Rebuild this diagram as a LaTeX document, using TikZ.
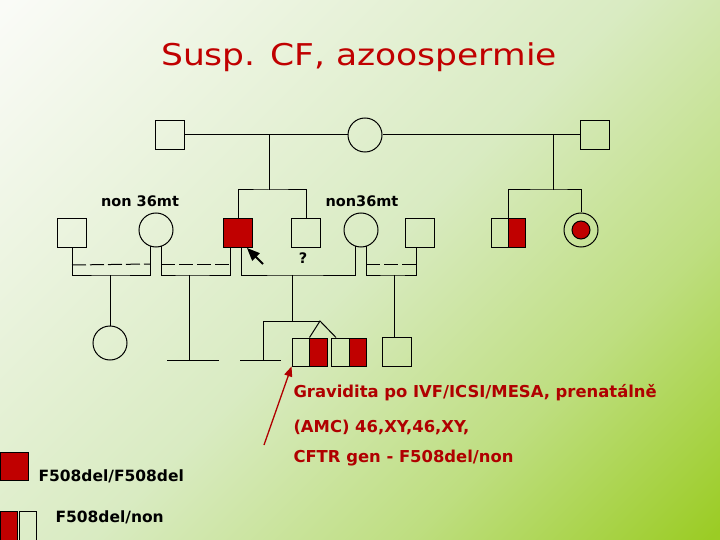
\documentclass[tikz,border=0pt]{standalone}
\usepackage{fontspec}
\setsansfont{DejaVu Sans}
\newfontfamily\titlefont[FakeStretch=1.15]{DejaVu Sans}
\usetikzlibrary{arrows,calc}
\definecolor{cfred}{RGB}{192,0,0}
\definecolor{txtred}{RGB}{176,0,0}
\definecolor{bgA}{RGB}{250,251,247}
\definecolor{bgB}{RGB}{217,235,194}
\definecolor{bgC}{RGB}{190,222,128}
\definecolor{bgD}{RGB}{155,204,36}
\pgfdeclarehorizontalshading{bgshade}{100bp}{color(0bp)=(bgA); color(15bp)=(bgA); color(50bp)=(bgB); color(68bp)=(bgC); color(85bp)=(bgD); color(100bp)=(bgD)}
\tikzset{every picture/.style={/utils/exec={\sffamily}}}
\tikzset{male/.style={draw,rectangle,minimum size=29pt,inner sep=0pt}}
\tikzset{female/.style={draw,circle,minimum size=34pt,inner sep=0pt}}
\tikzset{affected/.style={male,fill=cfred}}
\tikzset{carrier/.style={male,minimum width=35pt,minimum height=28pt,path picture={\fill[cfred] (path picture bounding box.north) rectangle (path picture bounding box.south east); \draw (path picture bounding box.north) -- (path picture bounding box.south);}}}
\tikzset{carrierf/.style={female,path picture={\fill[cfred,draw=black] (path picture bounding box.center) circle (9pt);}}}
\tikzset{pname/.style={font=\bfseries\fontsize{14.5}{16}\selectfont,inner sep=0pt}}
\tikzset{notetext/.style={font=\bfseries\fontsize{16.4}{18}\selectfont,text=txtred,anchor=west,inner sep=0pt}}
\tikzset{legtext/.style={font=\bfseries\fontsize{15.5}{18}\selectfont,anchor=west,inner sep=0pt}}
\tikzset{rail/.style={dash pattern=on 14pt off 4pt}}
\tikzset{blackarr/.style={-triangle 45,line width=2pt}}
\tikzset{redarr/.style={-triangle 45,txtred,line width=1.3pt}}

\begin{document}
\begin{tikzpicture}[x=1pt,y=-1pt,line width=1pt]
    \shade [shading=bgshade,shading angle=-45] (0,0) rectangle (720,540);
    \useasboundingbox (0,0) rectangle (720,540);
    \node [font=\titlefont\fontsize{30}{34}\selectfont,text=cfred] (title) at (359,57) {Susp. CF, azoospermie};
    % grandparents
    \node [male] (gf1) at (170,135) {};
    \node [female] (gm) at (365,135) {};
    \node [male] (gf2) at (595,135) {};
    \coordinate (m1) at (269,135);
    \coordinate (s1) at (269,190);
    \coordinate (m2) at (553,135);
    \coordinate (s2) at (553,190);
    \draw (gf1) -- (gm) -- (gf2);
    % parents
    \node [male] (a) at (72,233) {};
    \node [female] (b) at (156,230) {};
    \node [affected] (c) at (238,233) {};
    \node [male] (d) at (306,233) {};
    \node [female] (e) at (361,230) {};
    \node [male] (f) at (420,233) {};
    \node [carrier,minimum width=34pt] (g) at (508,233) {};
    \node [carrierf] (h) at (581,230) {};
    \node [pname] (bname) at (140,201) {non 36mt};
    \node [pname] (ename) at (362,201) {non36mt};
    \node [pname] (dq) at (303,258) {?};
    \draw (m1) -- (s1);
    \draw (c.north) |- (s1) -| (d.north);
    \draw (m2) -- (s2);
    \draw (g.north) |- (s2) -| (h.north);
    % couples
    \coordinate (bl) at (150,246);
    \coordinate (br) at (161,246);
    \coordinate (cl) at (230,247);
    \coordinate (cr) at (241,247);
    \coordinate (el) at (355,246);
    \coordinate (er) at (366,246);
    \coordinate (fl) at (416,247);
    \coordinate (ab) at (110,275);
    \coordinate (bc) at (189,275);
    \coordinate (ce) at (292,275);
    \coordinate (ef) at (394,275);
    \draw (a) |- (ab) -| (bl);
    \draw [rail] ($(a.south)+(0,17)$) -- ($(bl)+(0,18)$);
    \draw (br) |- (bc) -| (cl);
    \draw [rail] ($(br)+(0,18)$) -- ($(cl)+(0,17)$);
    \draw (cr) |- (ce) -| (el);
    \draw (er) |- (ef) -| (fl);
    \draw [rail] ($(er)+(0,18)$) -- ($(fl)+(0,17)$);
    \coordinate (pa) at (263,264);
    \coordinate (pb) at (247,248);
    \draw [blackarr] (pa) -- (pb);
    % children
    \node [female] (k1) at (110,343) {};
    \draw (ab) -- (k1);
    \coordinate (nb) at (189,360);
    \draw (bc) -- (nb);
    \draw ($(nb)+(-22,0)$) -- ($(nb)+(30,0)$);
    \coordinate (tw) at (292,321);
    \coordinate (nc) at (263,321);
    \coordinate (nd) at (263,360);
    \coordinate (ap) at (320,321);
    \draw (ce) -- (tw);
    \draw (nd) -- (nc) -- (ap);
    \draw ($(nd)+(-23,0)$) -- ($(nd)+(18,0)$);
    \node [carrier] (t1) at (309.5,352) {};
    \node [carrier] (t2) at (349,352) {};
    \draw (t1.north) -- (ap) -- ($(t2.north west)+(5,0)$);
    \node [male] (k4) at (397,352) {};
    \draw (ef) -- (ef |- k4.north);
    % note on the twins
    \node [notetext] (n1) at (293,393) {Gravidita po IVF/ICSI/MESA, prenatálně};
    \node [notetext] (n2) at (293,427) {(AMC) 46,XY,46,XY,};
    \node [notetext] (n3) at (293,458) {CFTR gen - F508del/non};
    \coordinate (rt) at (264,445);
    \draw [redarr] (rt) -- (t1.south west);
    % legend
    \node [affected,minimum size=28pt] (leg1) at (14,466) {};
    \node [legtext] (leg1t) at (38,476) {F508del/F508del};
    \node [affected,minimum width=17pt,minimum height=29pt] (leg2a) at (8.5,526) {};
    \node [male,minimum width=17pt,minimum height=29pt] (leg2b) at (28,526) {};
    \node [legtext] (leg2t) at (55,517) {F508del/non};
\end{tikzpicture}
\end{document}
